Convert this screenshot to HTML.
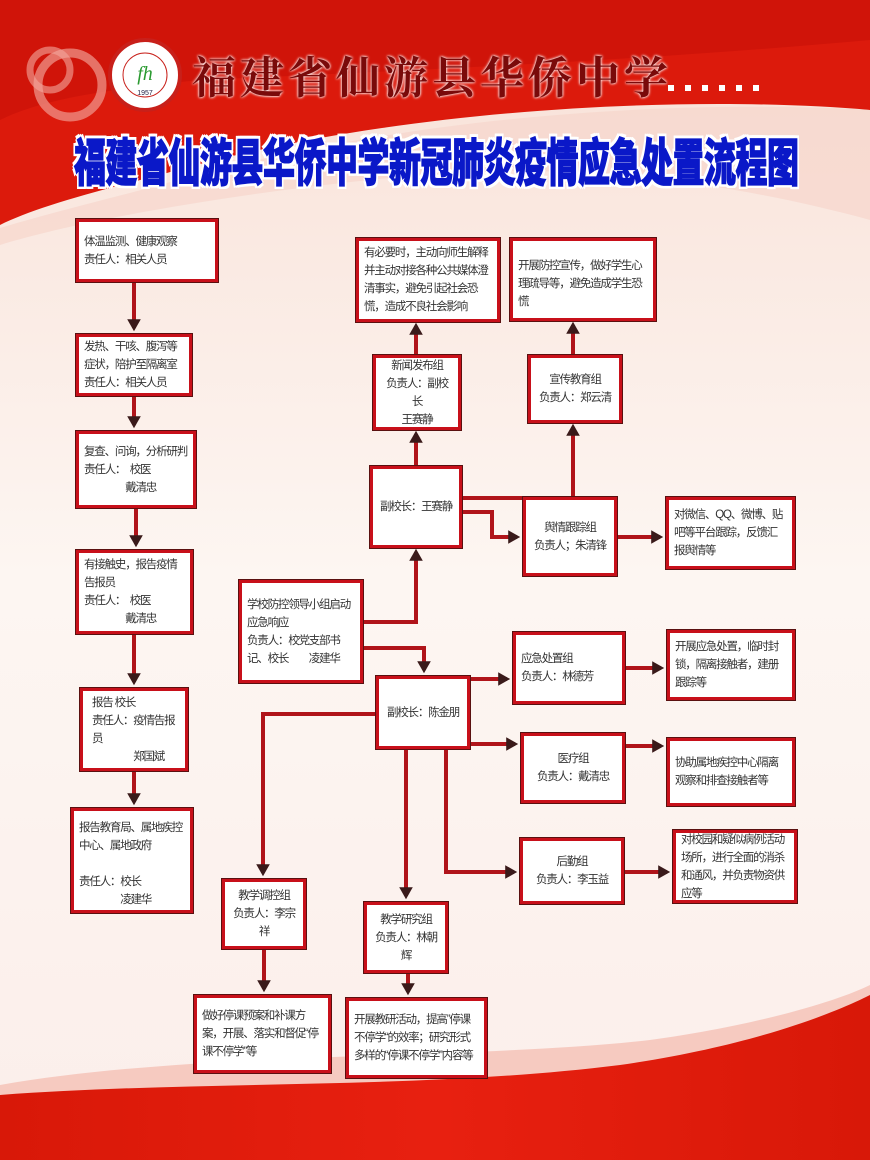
<!DOCTYPE html>
<html><head><meta charset="utf-8">
<style>
*{margin:0;padding:0;box-sizing:border-box}
body{width:870px;height:1160px;position:relative;overflow:hidden;font-family:"Liberation Sans","Noto Sans CJK SC",sans-serif;background:#fbeee8}
svg{position:absolute;left:0;top:0}
.b{position:absolute;background:#fff;border:3px solid #c8101a;box-shadow:0 0 0 1px #5a1010;font-size:11.5px;line-height:18px;color:#333;padding:3px 5px;letter-spacing:-1.2px}
.c{text-align:center;display:flex;flex-direction:column;justify-content:center}
.m{display:flex;flex-direction:column;justify-content:center}
.t1{position:absolute;left:192px;top:44px;font-family:"Noto Serif CJK SC",serif;font-size:44px;line-height:60px;color:#7a0a0a;letter-spacing:4px;font-weight:bold;text-shadow:0 0 3px #fff,0 0 2px #fff;white-space:nowrap}
.t2{position:absolute;left:74px;top:128px;font-family:"Noto Sans CJK SC",sans-serif;font-size:32px;line-height:40px;font-weight:900;color:#0a18c8;letter-spacing:-0.5px;white-space:nowrap;-webkit-text-stroke:0.8px #0a18c8;transform:scaleY(1.6);transform-origin:0 0;text-shadow:2px 0 #fff,-2px 0 #fff,0 2px #fff,0 -2px #fff,2px 2px #fff,-2px -2px #fff,2px -2px #fff,-2px 2px #fff}
</style></head><body>
<svg width="870" height="1160">
<defs>
<linearGradient id="bg" x1="0" y1="0" x2="0" y2="1"><stop offset="0" stop-color="#f8e0d6"/><stop offset="0.5" stop-color="#fdf6f2"/><stop offset="1" stop-color="#fbeeea"/></linearGradient>
<linearGradient id="rd" x1="0" y1="0" x2="1" y2="0"><stop offset="0" stop-color="#d81808"/><stop offset="0.5" stop-color="#e82010"/><stop offset="1" stop-color="#d81808"/></linearGradient>
<marker id="a" markerWidth="4" markerHeight="4" refX="2.2" refY="2" orient="auto" markerUnits="strokeWidth"><path d="M0,0.3 L3,2 L0,3.7z" fill="#3a1a1a"/></marker>
</defs>
<rect width="870" height="1160" fill="url(#bg)"/>
<path d="M0,0H870V110C700,95 400,105 160,175 C80,195 30,210 0,225Z" fill="#dc1a0c"/>
<path d="M0,0H870V40C650,60 420,70 200,80 C100,90 40,100 0,120Z" fill="#c81008" opacity="0.6"/>
<path d="M870,110C700,100 420,110 160,185 C120,196 60,210 0,228 V245 C80,220 250,190 420,175 C600,160 760,190 870,220Z" fill="#f6d6cc" opacity="0.7"/>
<circle cx="70" cy="85" r="32" fill="none" stroke="#f09a90" stroke-width="9" opacity="0.7"/>
<circle cx="50" cy="70" r="20" fill="none" stroke="#f3a89f" stroke-width="7" opacity="0.6"/>
<circle cx="145" cy="75" r="35" fill="#fff" stroke="#c8201a" stroke-width="4"/>
<circle cx="145" cy="75" r="22" fill="#fff" stroke="#c8201a" stroke-width="1"/>
<text x="145" y="80" text-anchor="middle" font-size="20" font-style="italic" fill="#2a9a30" font-family="Liberation Serif">fh</text>
<text x="145" y="95" text-anchor="middle" font-size="7" fill="#224" font-family="Liberation Sans">1957</text>
<g fill="#fff"><rect x="668" y="85" width="6" height="6"/><rect x="685" y="85" width="6" height="6"/><rect x="702" y="85" width="6" height="6"/><rect x="719" y="85" width="6" height="6"/><rect x="736" y="85" width="6" height="6"/><rect x="753" y="85" width="6" height="6"/></g>
<path d="M0,1085 C200,1050 480,1060 650,1040 C760,1025 840,1000 870,985 V1160H0Z" fill="#f3b0a4" opacity="0.6"/>
<path d="M0,1095 C200,1080 420,1090 620,1065 C760,1045 840,1010 870,995 V1160H0Z" fill="url(#rd)"/>
<g stroke="#b0141a" stroke-width="4" fill="none" stroke-linejoin="miter">
<line x1="134" y1="282" x2="134" y2="328" marker-end="url(#a)"/>
<line x1="134" y1="396" x2="134" y2="425" marker-end="url(#a)"/>
<line x1="136" y1="508" x2="136" y2="544" marker-end="url(#a)"/>
<line x1="134" y1="634" x2="134" y2="682" marker-end="url(#a)"/>
<line x1="134" y1="771" x2="134" y2="802" marker-end="url(#a)"/>
<polyline points="363,622 416,622 416,552" marker-end="url(#a)"/>
<polyline points="363,648 424,648 424,670" marker-end="url(#a)"/>
<line x1="416" y1="466" x2="416" y2="434" marker-end="url(#a)"/>
<line x1="416" y1="355" x2="416" y2="326" marker-end="url(#a)"/>
<polyline points="462,498 573,498 573,427" marker-end="url(#a)"/>
<line x1="573" y1="355" x2="573" y2="325" marker-end="url(#a)"/>
<polyline points="462,512 492,512 492,537 517,537" marker-end="url(#a)"/>
<line x1="617" y1="537" x2="660" y2="537" marker-end="url(#a)"/>
<line x1="470" y1="679" x2="507" y2="679" marker-end="url(#a)"/>
<line x1="470" y1="744" x2="515" y2="744" marker-end="url(#a)"/>
<polyline points="446,749 446,872 514,872" marker-end="url(#a)"/>
<line x1="406" y1="749" x2="406" y2="896" marker-end="url(#a)"/>
<polyline points="376,714 263,714 263,873" marker-end="url(#a)"/>
<line x1="625" y1="668" x2="661" y2="668" marker-end="url(#a)"/>
<line x1="625" y1="746" x2="661" y2="746" marker-end="url(#a)"/>
<line x1="624" y1="872" x2="667" y2="872" marker-end="url(#a)"/>
<line x1="264" y1="949" x2="264" y2="989" marker-end="url(#a)"/>
<line x1="408" y1="973" x2="408" y2="992" marker-end="url(#a)"/>
</g>
</svg>
<div class="t1">福建省仙游县华侨中学</div>
<div class="t2">福建省仙游县华侨中学新冠肺炎疫情应急处置流程图</div>

<div class="b m" style="left:76px;top:219px;width:142px;height:63px">体温监测、健康观察<br>责任人：相关人员</div>
<div class="b m" style="left:76px;top:334px;width:116px;height:62px">发热、干咳、腹泻等症状，陪护至隔离室<br>责任人：相关人员</div>
<div class="b m" style="left:76px;top:431px;width:120px;height:77px">复查、问询，分析研判<br>责任人：　校医<br>　　　　戴清忠</div>
<div class="b m" style="left:76px;top:550px;width:117px;height:84px">有接触史，报告疫情告报员<br>责任人：　校医<br>　　　　戴清忠</div>
<div class="b m" style="left:80px;top:688px;width:108px;height:83px;padding-left:9px">报告 校长<br>责任人：疫情告报员<br>　　　　郑国斌</div>
<div class="b" style="left:71px;top:808px;width:122px;height:105px;padding-top:8px">报告教育局、属地疾控中心、属地政府<br><br>责任人：校长<br>　　　　凌建华</div>

<div class="b m" style="left:356px;top:238px;width:144px;height:84px">有必要时，主动向师生解释并主动对接各种公共媒体澄清事实，避免引起社会恐慌，造成不良社会影响</div>
<div class="b c" style="left:373px;top:355px;width:88px;height:75px">新闻发布组<br>负责人：副校长<br>王赛静</div>
<div class="b c" style="left:370px;top:466px;width:92px;height:82px">副校长：王赛静</div>
<div class="b c" style="left:528px;top:355px;width:94px;height:68px">宣传教育组<br>负责人：郑云清</div>
<div class="b m" style="left:510px;top:238px;width:146px;height:83px;justify-content:flex-start;padding-top:16px">开展防控宣传，做好学生心理疏导等，避免造成学生恐慌</div>
<div class="b c" style="left:523px;top:497px;width:94px;height:79px">舆情跟踪组<br>负责人；朱清锋</div>
<div class="b m" style="left:666px;top:497px;width:129px;height:72px">对微信、QQ、微博、贴吧等平台跟踪，反馈汇报舆情等</div>

<div class="b m" style="left:239px;top:580px;width:124px;height:103px">学校防控领导小组启动应急响应<br>负责人：校党支部书记、校长　　凌建华</div>
<div class="b c" style="left:376px;top:676px;width:94px;height:73px">副校长：陈金朋</div>
<div class="b m" style="left:513px;top:632px;width:112px;height:72px">应急处置组<br>负责人：林德芳</div>
<div class="b m" style="left:667px;top:630px;width:128px;height:70px">开展应急处置，临时封锁，隔离接触者，建册跟踪等</div>
<div class="b c" style="left:521px;top:733px;width:104px;height:70px">医疗组<br>负责人：戴清忠</div>
<div class="b m" style="left:667px;top:738px;width:128px;height:68px">协助属地疾控中心隔离观察和排查接触者等</div>
<div class="b c" style="left:520px;top:838px;width:104px;height:66px">后勤组<br>负责人：李玉益</div>
<div class="b m" style="left:673px;top:830px;width:124px;height:73px">对校园和疑似病例活动场所，进行全面的消杀和通风，并负责物资供应等</div>
<div class="b c" style="left:222px;top:879px;width:84px;height:70px">教学调控组<br>负责人：李宗祥</div>
<div class="b c" style="left:364px;top:902px;width:84px;height:71px">教学研究组<br>负责人：林朝辉</div>
<div class="b m" style="left:194px;top:995px;width:137px;height:78px">做好停课预案和补课方案，开展、落实和督促“停课不停学”等</div>
<div class="b m" style="left:346px;top:998px;width:141px;height:80px">开展教研活动，提高”停课不停学“的效率；研究形式多样的“停课不停学”内容等</div>
</body></html>
